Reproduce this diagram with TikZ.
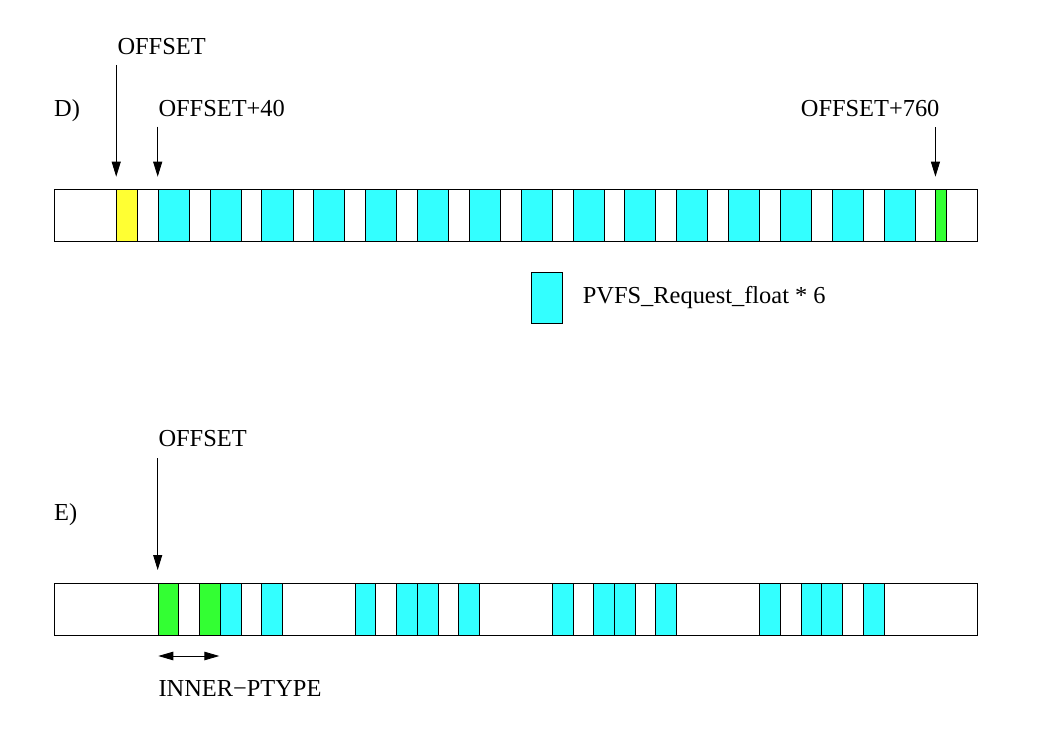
\documentclass[tikz,border=0pt]{standalone}
\usepackage{fontspec}
\setmainfont{Liberation Serif}
\usetikzlibrary{arrows.meta}
\begin{document}
\begin{tikzpicture}[x=1bp,y=-1bp,
  lbl/.style={anchor=base west,inner sep=0,font=\fontsize{24.5}{28}\selectfont},
  cell/.style={draw=black,line width=0.9bp,inner sep=0,anchor=north west,minimum height=52bp},
  cyancell/.style={cell,fill={rgb,255:red,51;green,255;blue,255}},
  greencell/.style={cell,fill={rgb,255:red,51;green,255;blue,51}},
  yellowcell/.style={cell,fill={rgb,255:red,255;green,255;blue,51}},
  bar/.style={cell,fill=white,minimum width=923bp},
  ptr/.style={line width=0.9bp,-{Triangle[length=15bp,width=9bp]}},
  span/.style={line width=0.9bp,{Triangle[length=15bp,width=8.5bp]}-{Triangle[length=15bp,width=8.5bp]}}
]
\useasboundingbox (0,0) rectangle (1038,740);
\def\u{10.37}
% ---------- D ----------
\node[lbl] (dlab) at (54,116.7) {D)};
\node[lbl] (doff) at (117.3,55) {OFFSET};
\node[lbl] (doff40) at (158.3,116.7) {OFFSET+40};
\node[lbl] (doff760) at (800.7,116.7) {OFFSET+760};
\node[bar] (dbar) at (54,188.5) {};
\node[yellowcell,minimum width=2*\u bp] (dy) at ({54+6*\u},188.5) {};
\foreach \k in {0,...,14}{
  \node[cyancell,minimum width=3*\u bp] (dc\k) at ({54+(10+5*\k)*\u},188.5) {};
}
\node[greencell,minimum width=\u bp] (dg) at ({54+85*\u},188.5) {};
\coordinate (a1) at ([yshift=123.5bp]dy.north west);
\coordinate (a2) at ([yshift=61.8bp]dc0.north west);
\coordinate (a3) at ([yshift=61.2bp]dg.north west);
\draw[ptr] (a1) -- ([yshift=11.8bp]dy.north west);
\draw[ptr] (a2) -- ([yshift=11.8bp]dc0.north west);
\draw[ptr] (a3) -- ([yshift=11.8bp]dg.north west);
% legend
\node[cyancell,minimum width=31.6bp,minimum height=51bp] (leg) at (530.7,271.7) {};
\node[lbl] (legt) at (582.7,303.3) {PVFS\_Request\_float * 6};
% ---------- E ----------
\node[lbl] (elab) at (54,520) {E)};
\node[lbl] (eoff) at (158.3,446.7) {OFFSET};
\node[bar] (ebar) at (54,582.5) {};
\node[greencell,minimum width=2*\u bp] (eg1) at ({54+10*\u},582.5) {};
\node[greencell,minimum width=2*\u bp] (eg2) at ({54+14*\u},582.5) {};
\foreach \p [count=\i] in {16,20,29,33,35,39,48,52,54,58,68,72,74,78}{
  \node[cyancell,minimum width=2*\u bp] (ec\i) at ({54+\p*\u},582.5) {};
}
\coordinate (a4) at ([yshift=124.2bp]eg1.north west);
\draw[ptr] (a4) -- ([yshift=12.5bp]eg1.north west);
\coordinate (s1) at (158.3,656);
\coordinate (s2) at (219.3,656);
\draw[span] (s1) -- (s2);
\node[lbl] (inner) at (158.3,696) {INNER−PTYPE};
\end{tikzpicture}
\end{document}
